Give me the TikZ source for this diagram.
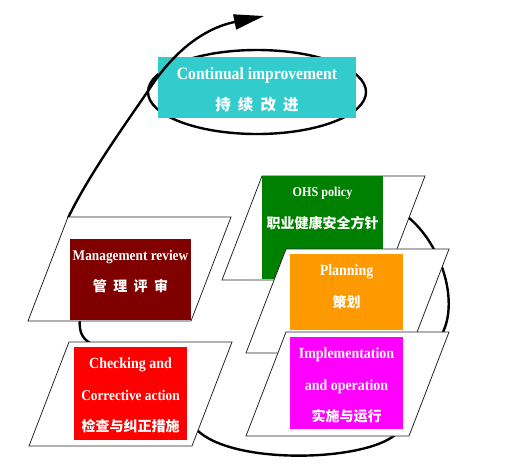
\documentclass[tikz,border=0pt]{standalone}
\usepackage{fontspec}
\setmainfont{Liberation Serif}[FakeStretch=0.9]
\newfontfamily\cjk[WordSpace=2]{Noto Sans CJK SC}
\usetikzlibrary{positioning}
\usetikzlibrary{arrows.meta}
\definecolor{improvecyan}{HTML}{33CCCC}
\definecolor{reviewred}{HTML}{800000}
\definecolor{policygreen}{HTML}{008000}
\definecolor{planorange}{HTML}{FF9900}
\definecolor{checkred}{HTML}{FF0000}
\definecolor{implmagenta}{HTML}{FF00FF}

\begin{document}
\begin{tikzpicture}[x=1pt,y=-1pt,
        thickline/.style={line width=2.4pt},
        frame/.style={draw=black!85, line width=0.8pt, fill=white},
        box/.style={anchor=north west, inner sep=0pt, outer sep=0pt},
        txt/.style={text=white, align=center, inner sep=0pt,
            font=\bfseries\fontsize{15.5}{31.5}\selectfont}]
                \useasboundingbox (0,0) rectangle (510,467);

                % Define the coordinates of the points
                \coordinate (start) at (68,218);
                \coordinate (bend) at (150,88);
                \coordinate (tip) at (264,16);
                \coordinate (mrend) at (80,318);
                \coordinate (castart) at (94,345);
                \coordinate (caend) at (196,429);
                \coordinate (ioend) at (395,435);
                \coordinate (ohsend) at (404,214);
                \coordinate (plend) at (442,334);

                % continual improvement
                \draw[thickline] (257,92) ellipse (109pt and 42pt);
                \node[box, fill=improvecyan, minimum width=198pt, minimum height=61pt] (ci-box) at (158,57) {};
                \node[txt, font=\bfseries\fontsize{17.4}{31.5}\selectfont, below=10pt of ci-box.north]
                    (ci-text) {Continual improvement\\{\cjk\fontsize{15.5}{31.5}\selectfont 持 续 改 进}};
                \draw[thickline, -{Triangle[length=30pt,width=15pt]}] (start) .. controls (90,172) and (134,112) .. (bend)
                    .. controls (175,50) and (205,28) .. (tip);

                % the cycle
                \draw[thickline] (mrend) .. controls (78,335) and (85,341) .. (castart);
                \draw[thickline] (caend) .. controls (230,465) and (362,462) .. (ioend);
                \draw[thickline] (ohsend) .. controls (440,240) and (460,300) .. (plend);

                \foreach \name/\x/\y/\col/\bx/\by/\bw/\bh in {mr/68/217/reviewred/70/239/121/81,
                        ca/69/342/checkred/74/347/113/93,
                        ohs/262/176/policygreen/262/176/121/103,
                        pl/286/249/planorange/290/254/113/76,
                        io/286/332/implmagenta/290/337/113/92}
                {
                    \draw[frame] (\x,\y) -- ++(163,0) -- ++(-40,104) -- ++(-163,0) -- cycle;
                    \node[box, fill=\col, minimum width=\bw pt, minimum height=\bh pt] (\name-box) at (\bx,\by) {};
                }

                \node[txt, below=11pt of mr-box.north] (mr-text)
                    {{\fontsize{14.8}{31.5}\selectfont Management review}\\{\cjk\fontsize{14}{31.5}\selectfont 管 理 评 审}};
                \node[txt, below=11pt of ca-box.north] (ca-text)
                    {Checking and\\{\fontsize{14.8}{31.5}\selectfont Corrective action}\\{\cjk\fontsize{14}{31.5}\selectfont 检查与纠正措施}};
                \node[txt, below=11pt of ohs-box.north] (ohs-text)
                    {{\fontsize{13.5}{31.5}\selectfont OHS policy}\\{\cjk\fontsize{14}{31.5}\selectfont 职业健康安全方针}};
                \node[txt, below=11pt of pl-box.north] (pl-text)
                    {Planning\\{\cjk\fontsize{14}{31.5}\selectfont 策划}};
                \node[txt, below=11pt of io-box.north] (io-text)
                    {Implementation\\and operation\\{\cjk\fontsize{14}{31.5}\selectfont 实施与运行}};

            \end{tikzpicture}
\end{document}
